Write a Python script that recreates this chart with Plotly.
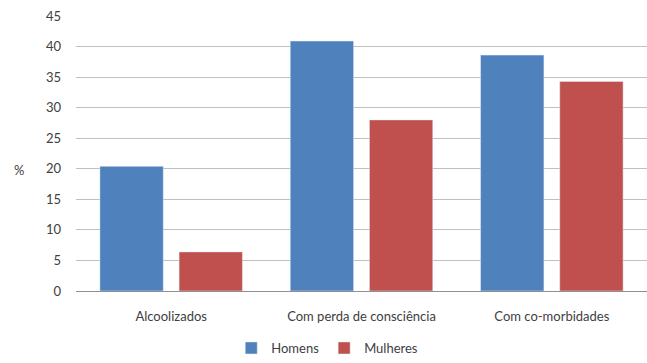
import plotly.graph_objects as go

categories = ["Alcoolizados", "Com perda de consciência", "Com co-morbidades"]
homens = [20.4, 40.9, 38.6]
mulheres = [6.4, 28.0, 34.3]
y_ticks = [0, 5, 10, 15, 20, 25, 30, 35, 40, 45]

fig = go.Figure()
fig.add_bar(name="Homens", x=categories, y=homens, marker_color="#4F81BD")
fig.add_bar(name="Mulheres", x=categories, y=mulheres, marker_color="#C0504D")

font = dict(family="Lato, Liberation Sans, sans-serif", size=13, color="#404040")

fig.update_layout(
    width=647, height=363,
    margin=dict(l=76, r=0, t=16, b=72),
    paper_bgcolor="white", plot_bgcolor="white",
    barmode="group", bargap=0.168, bargroupgap=0.2,
    font=font,
    showlegend=True,
    legend=dict(orientation="h", x=0.44, xanchor="center", yref="container", y=-0.012, yanchor="bottom",
                font=dict(family="Lato, Liberation Sans, sans-serif", size=13, color="#404040"),
                itemwidth=30, tracegroupgap=0),
    xaxis=dict(showgrid=False, showline=False, ticks="", ticklabelstandoff=16,
               tickfont=font),
    yaxis=dict(range=[0, 45], tickvals=y_ticks, showgrid=True, gridcolor="#c0c0c0", gridwidth=1,
               zeroline=True, zerolinecolor="#909090", zerolinewidth=1,
               showline=False, ticks="", ticklabelstandoff=14, tickfont=font),
    annotations=[dict(text="%", xref="paper", yref="paper", x=-0.1, y=0.44, xanchor="center",
                      yanchor="middle", showarrow=False, font=font)],
)

fig.write_html("out.html")
